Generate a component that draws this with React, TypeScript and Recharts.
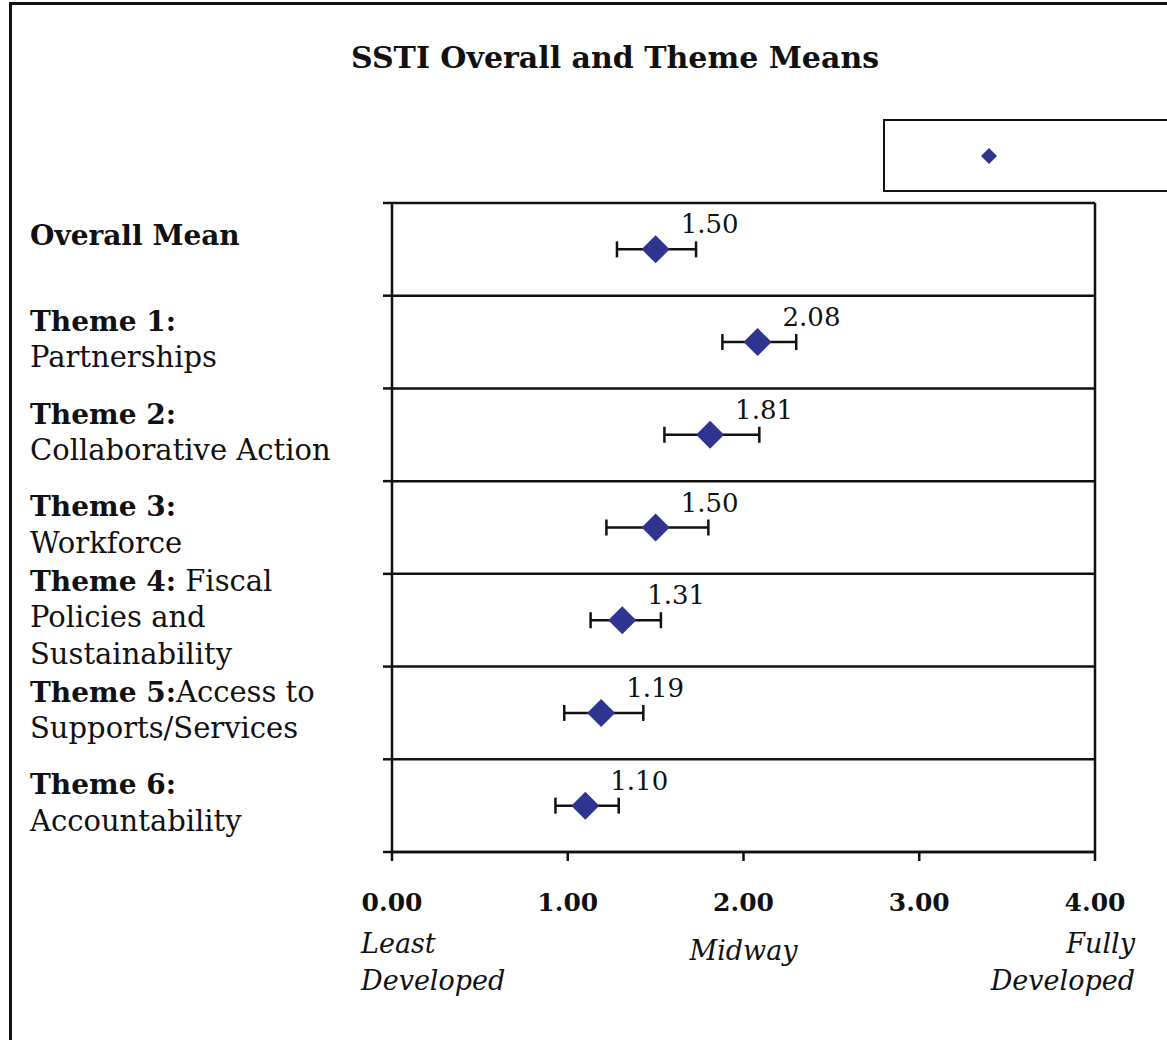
import React from "react";
import {
  ScatterChart,
  Scatter,
  XAxis,
  YAxis,
  CartesianGrid,
  ErrorBar,
  ReferenceLine,
  Legend,
} from "recharts";

const FONT = "'DejaVu Serif', 'Liberation Serif', serif";
const INK = "#111";
const MARKER = "#2E3591";

// row labels, top to bottom
const headings = [
  "Overall Mean",
  "Theme 1:",
  "Theme 2:",
  "Theme 3:",
  "Theme 4:",
  "Theme 5:",
  "Theme 6:",
];
const headingTails = ["", "", "", "", " Fiscal", "Access to", ""];
const subLines = [
  [],
  ["Partnerships"],
  ["Collaborative Action"],
  ["Workforce"],
  ["Policies and", "Sustainability"],
  ["Supports/Services"],
  ["Accountability"],
];

const means = [1.5, 2.08, 1.81, 1.5, 1.31, 1.19, 1.1];
const lowerBounds = [1.28, 1.88, 1.55, 1.22, 1.13, 0.98, 0.93];
const upperBounds = [1.73, 2.3, 2.09, 1.8, 1.53, 1.43, 1.29];

const xTicks = [0, 1, 2, 3, 4];
const scaleNotes = [["Least", "Developed"], [], ["Midway"], [], ["Fully", "Developed"]];

const rowCount = means.length;
const boundaryTicks = Array.from({ length: rowCount + 1 }, (_, i) => i);
const centerTicks = means.map((_, i) => i + 0.5);

const rows = means.map((m, i) => ({
  mean: m,
  pos: i + 0.5,
  err: [m - lowerBounds[i], upperBounds[i] - m],
}));

function Diamond(props: any) {
  const { cx, cy } = props;
  const v = props.payload?.mean ?? props.mean;
  const h = 14;
  return (
    <g>
      <path
        d={`M${cx},${cy - h}L${cx + h},${cy}L${cx},${cy + h}L${cx - h},${cy}Z`}
        fill={MARKER}
      />
      <text
        x={cx + 25}
        y={cy - 16}
        fontSize={26}
        fontFamily={FONT}
        fill={INK}
        textAnchor="start"
      >
        {Number(v).toFixed(2)}
      </text>
    </g>
  );
}

function RowLabel(props: any) {
  const { y, payload } = props;
  const i = Math.floor(payload.value);
  if (!headings[i]) return <g />;
  const lh = 36.5;
  const n = 1 + subLines[i].length;
  const nudge = n === 1 ? -13 : -2;
  const first = y - ((n - 1) * lh) / 2 + 9 + nudge;
  return (
    <text x={30} y={first} fontSize={29} fontFamily={FONT} fill={INK} textAnchor="start">
      <tspan fontWeight="bold" fontSize={28}>
        {headings[i]}
      </tspan>
      {headingTails[i] ? <tspan>{headingTails[i]}</tspan> : null}
      {subLines[i].map((s, k) => (
        <tspan key={k} x={30} y={first + (k + 1) * lh}>
          {s}
        </tspan>
      ))}
    </text>
  );
}

function ScaleTick(props: any) {
  const { x, payload, index } = props;
  const top = 852;
  const notes = scaleNotes[index] || [];
  let anchor: "start" | "middle" | "end" = "middle";
  let nx = x;
  if (index === 0) {
    anchor = "start";
    nx = x - 31;
  } else if (index === xTicks.length - 1) {
    anchor = "end";
    nx = x + 40;
  }
  const noteTop = notes.length === 1 ? top + 108 : top + 101;
  return (
    <g>
      <text
        x={x}
        y={top + 59}
        textAnchor="middle"
        fontSize={25}
        fontWeight="bold"
        fontFamily={FONT}
        fill={INK}
      >
        {Number(payload.value).toFixed(2)}
      </text>
      {notes.map((s, k) => (
        <text
          key={k}
          x={nx}
          y={noteTop + k * 37}
          textAnchor={anchor}
          fontSize={27}
          fontStyle="italic"
          fontFamily={FONT}
          fill={INK}
        >
          {s}
        </text>
      ))}
    </g>
  );
}

function LegendBox(props: any) {
  const color = props.payload?.[0]?.color || MARKER;
  return (
    <div
      style={{
        border: `2.5px solid ${INK}`,
        height: 73,
        width: 320,
        boxSizing: "border-box",
        position: "relative",
      }}
    >
      <svg width={20} height={20} style={{ position: "absolute", left: 94, top: 25 }}>
        <path d="M10,2L18,10L10,18L2,10Z" fill={color} />
      </svg>
    </div>
  );
}

export default function App() {
  return (
    <div
      style={{
        position: "absolute",
        left: 0,
        top: 0,
        width: 1167,
        height: 1040,
        overflow: "hidden",
        background: "#fff",
      }}
    >
      <div
        style={{
          position: "absolute",
          left: 9,
          top: 2,
          width: 2000,
          height: 2000,
          border: `3px solid ${INK}`,
        }}
      />
      <div
        style={{
          position: "absolute",
          left: 0,
          top: 40,
          width: 1230,
          textAlign: "center",
          fontFamily: FONT,
          fontWeight: "bold",
          fontSize: 30,
          color: INK,
        }}
      >
        SSTI Overall and Theme Means
      </div>
      <ScatterChart
        width={1167}
        height={1040}
        margin={{ top: 203, right: 62, bottom: 148, left: 382 }}
      >
        <CartesianGrid
          yAxisId="num"
          vertical={false}
          stroke={INK}
          strokeWidth={2.5}
          strokeOpacity={1}
        />
        <XAxis
          type="number"
          dataKey="mean"
          domain={[0, 4]}
          ticks={xTicks}
          height={40}
          axisLine={{ stroke: INK, strokeWidth: 2.5 }}
          tickLine={{ stroke: INK, strokeWidth: 2.5 }}
          tickSize={9}
          tick={<ScaleTick />}
          interval={0}
        />
        <YAxis
          yAxisId="num"
          type="number"
          dataKey="pos"
          domain={[0, rowCount]}
          ticks={boundaryTicks}
          reversed
          width={10}
          axisLine={{ stroke: INK, strokeWidth: 2.5 }}
          tickLine={{ stroke: INK, strokeWidth: 2.5 }}
          tickSize={9}
          tick={() => <g />}
          interval={0}
        />
        <YAxis
          yAxisId="lab"
          orientation="right"
          type="number"
          dataKey="pos"
          domain={[0, rowCount]}
          ticks={centerTicks}
          reversed
          width={10}
          axisLine={false}
          tickLine={false}
          tick={<RowLabel />}
          interval={0}
        />
        <ReferenceLine yAxisId="num" x={4} stroke={INK} strokeWidth={2.5} />
        <Legend
          verticalAlign="middle"
          align="center"
          layout="horizontal"
          wrapperStyle={{ top: 119, left: 883, width: 320 }}
          content={<LegendBox />}
        />
        <Scatter
          yAxisId="num"
          data={rows}
          fill={MARKER}
          shape={<Diamond />}
          isAnimationActive={false}
        >
          <ErrorBar
            dataKey="err"
            direction="x"
            stroke={INK}
            strokeWidth={2.5}
            width={8}
          />
        </Scatter>
        {/* carrier so the label axis gets drawn */}
        <Scatter
          yAxisId="lab"
          data={rows}
          legendType="none"
          shape={() => <g />}
          isAnimationActive={false}
        />
      </ScatterChart>
    </div>
  );
}
